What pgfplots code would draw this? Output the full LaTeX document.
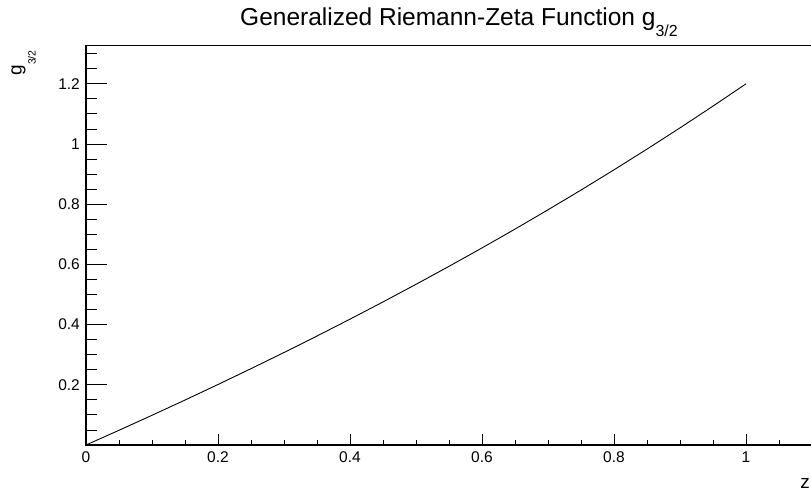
\documentclass[border=0pt]{standalone}
\usepackage{pgfplots}
\pgfplotsset{compat=1.18}
\usepackage{fontspec}
\setmainfont{Liberation Sans}
\begin{document}
\begin{tikzpicture}
\useasboundingbox (0,0) rectangle (811bp,496bp);
\begin{axis}[
  at={(86bp,51bp)}, anchor=south west,
  scale only axis, width=726bp, height=399.3bp,
  xmin=0, xmax=1.1, ymin=0, ymax=1.3266,
  axis line style={line width=1.1bp},
  tick pos=left, tick align=inside,
  xtick={0,0.2,0.4,0.6,0.8,1},
  xticklabels={0,0.2,0.4,0.6,0.8,1},
  ytick={0.2,0.4,0.6,0.8,1,1.2},
  yticklabels={0.2,0.4,0.6,0.8,1,1.2},
  minor xtick={0.05,0.1,0.15,0.25,0.3,0.35,0.45,0.5,0.55,0.65,0.7,0.75,0.85,0.9,0.95,1.05},
  minor ytick={0.05,0.1,0.15,0.25,0.3,0.35,0.45,0.5,0.55,0.65,0.7,0.75,0.85,0.9,0.95,1.05,1.1,1.15,1.25,1.3},
  xtick style={/pgfplots/major tick length=11bp,/pgfplots/minor tick length=5.5bp,line width=0.9bp,black},
  ytick style={/pgfplots/major tick length=21bp,/pgfplots/minor tick length=10.7bp,line width=0.9bp,black},
  x tick label style={anchor=north, inner sep=0pt, yshift=-6.5bp, font=\fontsize{15.5bp}{16bp}\selectfont},
  y tick label style={anchor=east, inner sep=0pt, xshift=-6bp, font=\fontsize{15.5bp}{16bp}\selectfont},
  /pgf/number format/assume math mode=true,
]
\addplot[black, line width=0.9bp] coordinates {
(0,0) (0.05,0.0489) (0.1,0.0987) (0.15,0.1493) (0.2,0.2010) (0.25,0.2536)
(0.3,0.3073) (0.35,0.3621) (0.4,0.4181) (0.45,0.4753) (0.5,0.5338)
(0.55,0.5936) (0.6,0.6547) (0.65,0.7173) (0.7,0.7814) (0.75,0.8470)
(0.8,0.9142) (0.85,0.9831) (0.9,1.0536) (0.95,1.1259) (1.0,1.2)
};
\end{axis}
\node[anchor=base west, inner sep=0pt, font=\fontsize{24.5bp}{26bp}\selectfont] at (240bp,470bp)
  {Generalized Riemann-Zeta Function g\raisebox{-10.7bp}{\fontsize{16bp}{16bp}\selectfont 3/2}};
\node[rotate=90, anchor=base west, inner sep=0pt, font=\fontsize{19bp}{20bp}\selectfont] at (21.6bp,420.3bp)
  {g\raisebox{-14bp}{\fontsize{10.5bp}{11bp}\selectfont 3/2}};
\node[anchor=base east, inner sep=0pt, font=\fontsize{19bp}{20bp}\selectfont] at (810bp,8bp) {z};
\end{tikzpicture}
\end{document}
